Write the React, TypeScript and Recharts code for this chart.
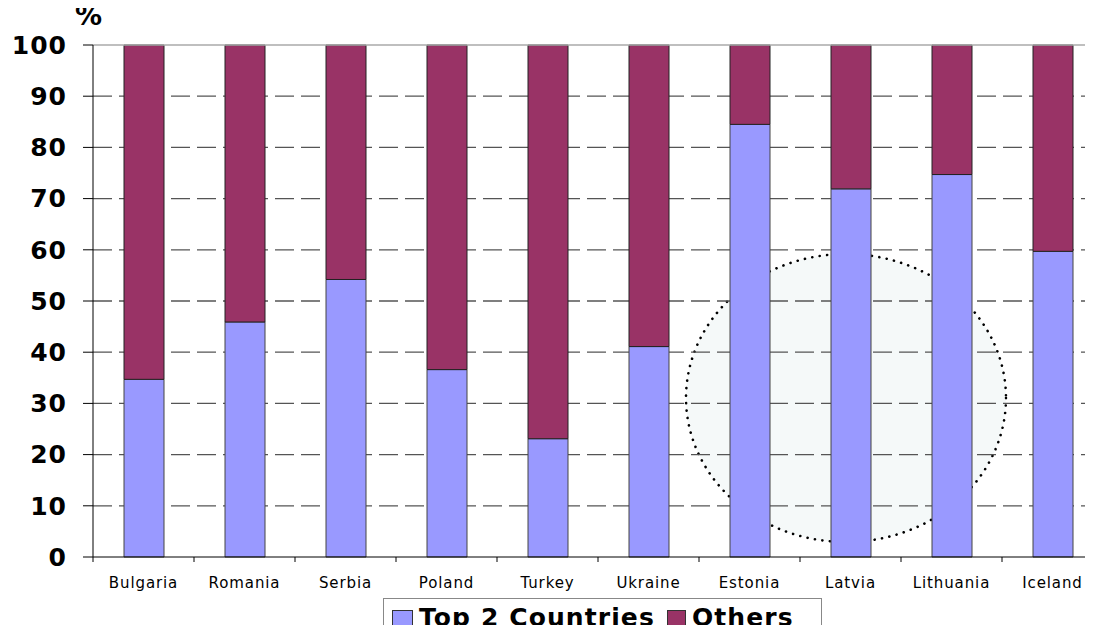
import { Bar, BarChart, CartesianGrid, ReferenceLine, XAxis, YAxis } from 'recharts';

const countries = ['Bulgaria', 'Romania', 'Serbia', 'Poland', 'Turkey', 'Ukraine', 'Estonia', 'Latvia', 'Lithuania', 'Iceland'];
const top2Share = [34.7, 45.9, 54.2, 36.6, 23.1, 41.1, 84.5, 71.9, 74.7, 59.7];
const othersShare = [65.3, 54.1, 45.8, 63.4, 76.9, 58.9, 15.5, 28.1, 25.3, 40.3];
const yTicks = [0, 10, 20, 30, 40, 50, 60, 70, 80, 90, 100];
const gridValues = [10, 20, 30, 40, 50, 60, 70, 80, 90];

const data = countries.map((name, i) => ({ name, top2: top2Share[i], others: othersShare[i] }));

const FONT = '"DejaVu Sans", Verdana, sans-serif';
const BLUE = '#9999ff';
const PLUM = '#993366';
const BAND = 101;

function CountryTick(props: any) {
  const { x, y, payload } = props;
  return (
    <g>
      <line x1={x - BAND / 2} x2={x - BAND / 2} y1={y} y2={y + 5} stroke="#000" />
      <text x={x} y={y + 31} textAnchor="middle" fontFamily={FONT} fontSize={15} letterSpacing={0.9} fill="#000">
        {payload.value}
      </text>
    </g>
  );
}

export default function App() {
  return (
    <div style={{ position: 'relative', margin: -8, width: 1093, height: 633, overflow: 'hidden', background: '#fff' }}>
      <svg width={1093} height={633} style={{ position: 'absolute', left: 0, top: 0 }}>
        <ellipse cx={846} cy={398} rx={160} ry={144} fill="#f5f9f9" stroke="#000" strokeWidth={2.6}
          strokeDasharray="0.1 7.4" strokeLinecap="round" />
      </svg>
      <div style={{ position: 'absolute', left: 75, top: 1, fontFamily: FONT, fontWeight: 'bold', fontSize: 27, lineHeight: '30px', color: '#000' }}>%</div>
      <div style={{ position: 'absolute', left: 0, top: 0 }}>
        <BarChart width={1110} height={633} data={data} margin={{ top: 45, right: 7, bottom: 46, left: 0 }} barSize={40}>
          <CartesianGrid vertical={false} horizontalValues={gridValues} stroke="#555" strokeWidth={1.3} strokeDasharray="19 7" />
          <ReferenceLine y={100} stroke="#aaa" strokeWidth={1.3} />
          <XAxis dataKey="name" height={30} interval={0} tickLine={false} tickSize={0} tickMargin={0}
            axisLine={{ stroke: '#000' }} tick={<CountryTick />} />
          <YAxis width={93} domain={[0, 100]} ticks={yTicks} interval={0} tickSize={10} tickMargin={16}
            axisLine={{ stroke: '#000' }} tickLine={{ stroke: '#000' }}
            tick={{ fontFamily: FONT, fontWeight: 'bold', fontSize: 25, fill: '#000', letterSpacing: 1 }} />
          <Bar dataKey="top2" stackId="s" fill={BLUE} stroke="#444" strokeWidth={1} isAnimationActive={false} />
          <Bar dataKey="others" stackId="s" fill={PLUM} stroke="#222" strokeWidth={1} isAnimationActive={false} />
        </BarChart>
      </div>
      <div style={{ position: 'absolute', left: 383, top: 598, width: 439, height: 50, border: '1px solid #888', boxSizing: 'border-box',
        fontFamily: FONT, fontWeight: 'bold', fontSize: 25, lineHeight: 1, color: '#000', display: 'flex', alignItems: 'flex-start',
        paddingTop: 6, paddingLeft: 8, whiteSpace: 'nowrap', letterSpacing: 1.1 }}>
        <span style={{ display: 'inline-block', width: 19, height: 17, background: BLUE, border: '1px solid #333', marginTop: 5, marginRight: 6 }} />
        <span>Top 2 Countries</span>
        <span style={{ display: 'inline-block', width: 17, height: 17, background: PLUM, border: '1px solid #333', marginTop: 5, marginLeft: 12, marginRight: 6 }} />
        <span>Others</span>
      </div>
    </div>
  );
}
